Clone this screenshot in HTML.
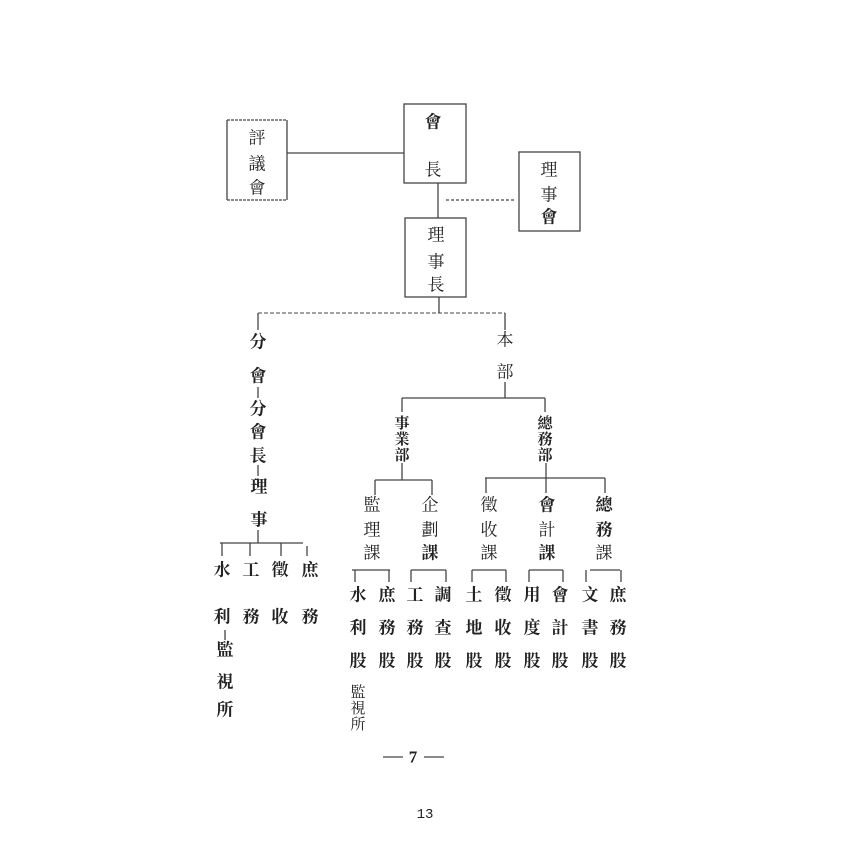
<!DOCTYPE html>
<html><head><meta charset="utf-8"><style>
html,body{margin:0;padding:0;background:#fff}
svg{display:block}
text{font-family:"Liberation Serif","Noto Serif CJK SC","Noto Sans CJK TC",serif;font-size:17px;fill:#222;text-anchor:middle;dominant-baseline:central}
.b{font-weight:bold}
.s{font-size:15px}
.m{font-size:15px;font-weight:bold}
</style></head><body>
<svg width="850" height="850" viewBox="0 0 850 850" xmlns="http://www.w3.org/2000/svg">
<g stroke="#444" stroke-width="1.3" fill="none">
<line x1="227" y1="120" x2="227" y2="200"/><line x1="287" y1="120" x2="287" y2="200"/>
<line x1="227" y1="120" x2="287" y2="120" stroke-dasharray="3,1"/><line x1="227" y1="200" x2="287" y2="200" stroke-dasharray="3,1"/>
<rect x="404" y="104" width="62" height="79"/>
<rect x="519" y="152" width="61" height="79"/>
<rect x="405" y="218" width="61" height="79"/>
<line x1="287" y1="153" x2="404" y2="153"/>
<line x1="438" y1="183" x2="438" y2="218"/>
<line x1="446" y1="200" x2="515" y2="200" stroke-dasharray="3,2"/>
<line x1="439" y1="297" x2="439" y2="313"/>
<line x1="258" y1="313" x2="505" y2="313" stroke-dasharray="4,2" stroke-width="1"/>
<line x1="258" y1="313" x2="258" y2="330"/>
<line x1="505" y1="313" x2="505" y2="330"/>
<line x1="258" y1="387" x2="258" y2="398"/>
<line x1="258" y1="465" x2="258" y2="476"/>
<line x1="258" y1="530" x2="258" y2="543"/>
<line x1="220" y1="543" x2="303" y2="543"/>
<line x1="222" y1="543" x2="222" y2="556"/>
<line x1="250" y1="543" x2="250" y2="556"/>
<line x1="281" y1="543" x2="281" y2="556"/>
<line x1="307" y1="546" x2="307" y2="556"/>
<line x1="225" y1="630" x2="225" y2="640"/>
<line x1="505" y1="382" x2="505" y2="398"/>
<line x1="402" y1="398" x2="545" y2="398"/>
<line x1="402" y1="398" x2="402" y2="412"/>
<line x1="545" y1="398" x2="545" y2="412"/>
<line x1="402" y1="463" x2="402" y2="480"/>
<line x1="375" y1="480" x2="432" y2="480"/>
<line x1="375" y1="480" x2="375" y2="495"/>
<line x1="432" y1="480" x2="432" y2="495"/>
<line x1="546" y1="463" x2="546" y2="478"/>
<line x1="485" y1="478" x2="605" y2="478"/>
<line x1="486" y1="478" x2="486" y2="493"/>
<line x1="546" y1="478" x2="546" y2="493"/>
<line x1="605" y1="478" x2="605" y2="493"/>
<line x1="352" y1="570" x2="390" y2="570"/><line x1="355" y1="570" x2="355" y2="582"/><line x1="389" y1="570" x2="389" y2="582"/>
<line x1="411" y1="570" x2="446" y2="570"/><line x1="411" y1="570" x2="411" y2="582"/><line x1="446" y1="570" x2="446" y2="582"/>
<line x1="472" y1="570" x2="506" y2="570"/><line x1="472" y1="570" x2="472" y2="582"/><line x1="506" y1="570" x2="506" y2="582"/>
<line x1="529" y1="570" x2="563" y2="570"/><line x1="529" y1="570" x2="529" y2="582"/><line x1="563" y1="570" x2="563" y2="582"/>
<line x1="590" y1="570" x2="620" y2="570"/><line x1="586" y1="570" x2="586" y2="582"/><line x1="621" y1="570" x2="621" y2="582"/>
<line x1="383" y1="757" x2="403" y2="757"/><line x1="424" y1="757" x2="444" y2="757"/>
</g>
<text x="257" y="138">評</text><text x="257" y="164">議</text><text x="257" y="188">會</text>
<text x="433" y="122" class="b">會</text><text x="433" y="170">長</text>
<text x="549" y="170">理</text><text x="549" y="195">事</text><text x="549" y="217" class="b">會</text>
<text x="436" y="235">理</text><text x="436" y="262">事</text><text x="436" y="285">長</text>
<g class="b">
<text x="258" y="342">分</text><text x="258" y="376">會</text><text x="258" y="409">分</text><text x="258" y="432">會</text><text x="258" y="456">長</text><text x="259" y="487">理</text><text x="259" y="520">事</text>
<text x="222" y="570">水</text><text x="251" y="570">工</text><text x="280" y="570">徵</text><text x="310" y="570">庶</text>
<text x="222" y="617">利</text><text x="251" y="617">務</text><text x="280" y="617">收</text><text x="310" y="617">務</text>
<text x="225" y="650">監</text><text x="225" y="682">視</text><text x="225" y="710">所</text>
</g>
<text x="505" y="340">本</text><text x="505" y="372">部</text>
<text x="402" y="424" class="m">事</text><text x="402" y="440" class="m">業</text><text x="402" y="456" class="m">部</text>
<text x="545" y="424" class="m">總</text><text x="545" y="440" class="m">務</text><text x="545" y="456" class="m">部</text>
<g>
<text x="372" y="505">監</text><text x="372" y="530">理</text><text x="372" y="553">課</text>
<text x="430" y="505">企</text><text x="430" y="530">劃</text><text x="430" y="553" class="b">課</text>
<text x="489" y="505">徵</text><text x="489" y="530">收</text><text x="489" y="553">課</text>
<text x="547" y="505" class="b">會</text><text x="547" y="530">計</text><text x="547" y="553" class="b">課</text>
<text x="604" y="505" class="b">總</text><text x="604" y="530" class="b">務</text><text x="604" y="553">課</text>
</g>
<g class="b">
<text x="358" y="595">水</text><text x="387" y="595">庶</text><text x="415" y="595">工</text><text x="443" y="595">調</text><text x="474" y="595">土</text><text x="503" y="595">徵</text><text x="532" y="595">用</text><text x="560" y="595">會</text><text x="590" y="595">文</text><text x="618" y="595">庶</text>
<text x="358" y="628">利</text><text x="387" y="628">務</text><text x="415" y="628">務</text><text x="443" y="628">查</text><text x="474" y="628">地</text><text x="503" y="628">收</text><text x="532" y="628">度</text><text x="560" y="628">計</text><text x="590" y="628">書</text><text x="618" y="628">務</text>
<text x="358" y="661">股</text><text x="387" y="661">股</text><text x="415" y="661">股</text><text x="443" y="661">股</text><text x="474" y="661">股</text><text x="503" y="661">股</text><text x="532" y="661">股</text><text x="560" y="661">股</text><text x="590" y="661">股</text><text x="618" y="661">股</text>
</g>
<text x="358" y="693" class="s">監</text><text x="358" y="709" class="s">視</text><text x="358" y="725" class="s">所</text>
<text x="413" y="757" class="b">7</text>
<text x="425" y="815" style="font-family:'Liberation Mono',monospace;font-size:14px">13</text>
</svg>
</body></html>
